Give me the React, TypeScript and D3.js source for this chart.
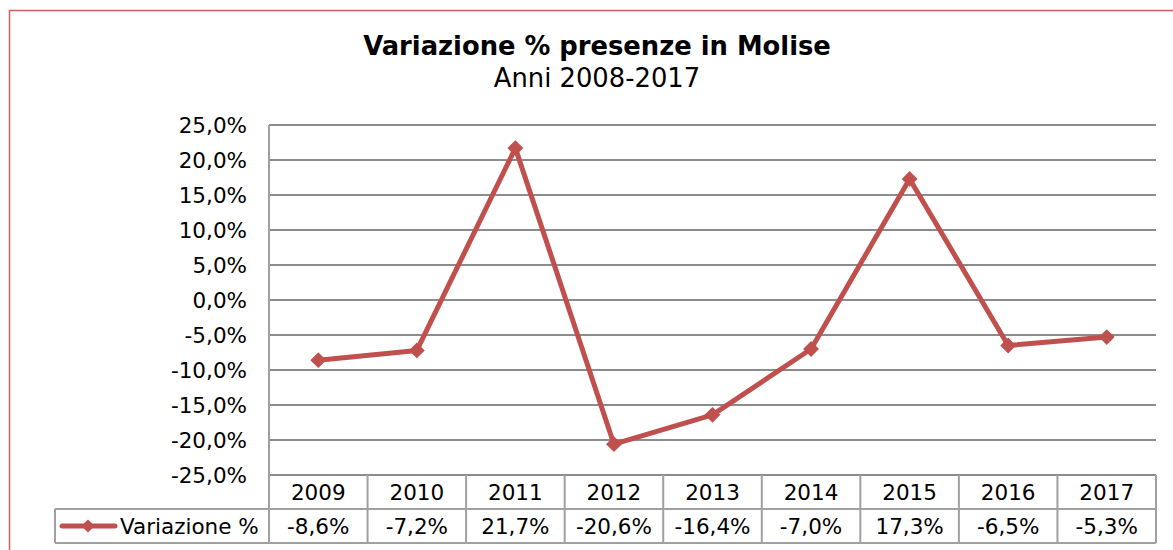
import { useEffect, useRef } from "react";
import * as d3 from "d3";

// Variazione % presenze in Molise, 2009-2017
const years = ["2009", "2010", "2011", "2012", "2013", "2014", "2015", "2016", "2017"];
const variazione = [-8.6, -7.2, 21.7, -20.6, -16.4, -7.0, 17.3, -6.5, -5.3];
const yTicks = [25, 20, 15, 10, 5, 0, -5, -10, -15, -20, -25];
const seriesName = "Variazione %";
const title = "Variazione % presenze in Molise";
const subtitle = "Anni 2008-2017";

const W = 1173;
const H = 550;
const RED = "#C0504D";
const GRID = "#8c8c8c";
const FONT = "'DejaVu Sans', Verdana, sans-serif";

const fmt = (v: number) => v.toFixed(1).replace(".", ",") + "%";

export default function App() {
  const svgRef = useRef<SVGSVGElement>(null);

  useEffect(() => {
    if (!svgRef.current) return;
    const svg = d3.select(svgRef.current);
    svg.selectAll("*").remove();

    const left = 269;
    const right = 1156;
    const top = 125;
    const bottom = 475;
    const rowH = 34;
    const legendLeft = 55;

    const x = d3.scaleBand<string>().domain(years).range([left, right]).padding(0);
    const y = d3.scaleLinear().domain([-25, 25]).range([bottom, top]);

    // outer chart border (cropped at right / bottom)
    svg.append("rect")
      .attr("x", 9.5)
      .attr("y", 10.5)
      .attr("width", W + 20)
      .attr("height", H + 20)
      .attr("fill", "#fff")
      .attr("stroke", "#d0605d")
      .attr("stroke-width", 1.5);

    // titles
    svg.append("text")
      .attr("x", 597)
      .attr("y", 55)
      .attr("text-anchor", "middle")
      .style("font-family", FONT)
      .style("font-size", "25.8px")
      .style("font-weight", "bold")
      .text(title);
    svg.append("text")
      .attr("x", 597)
      .attr("y", 87)
      .attr("text-anchor", "middle")
      .style("font-family", FONT)
      .style("font-size", "25.8px")
      .text(subtitle);

    // gridlines
    svg.append("g")
      .selectAll("line")
      .data(yTicks)
      .join("line")
      .attr("x1", left)
      .attr("x2", right)
      .attr("y1", (d) => y(d))
      .attr("y2", (d) => y(d))
      .attr("stroke", GRID)
      .attr("stroke-width", 2);

    // y tick labels
    svg.append("g")
      .selectAll("text")
      .data(yTicks)
      .join("text")
      .attr("x", 247)
      .attr("y", (d) => y(d))
      .attr("dy", "0.35em")
      .attr("text-anchor", "end")
      .style("font-family", FONT)
      .style("font-size", "21.5px")
      .text((d) => fmt(d));

    // data table
    const table = svg.append("g").attr("stroke", "#a0a0a0").attr("stroke-width", 2);
    table.append("line").attr("x1", left).attr("x2", left).attr("y1", top).attr("y2", bottom + 2 * rowH);
    table.append("line").attr("x1", legendLeft).attr("x2", right).attr("y1", bottom + rowH).attr("y2", bottom + rowH);
    table.append("line").attr("x1", legendLeft).attr("x2", right).attr("y1", bottom + 2 * rowH).attr("y2", bottom + 2 * rowH);
    table.append("line").attr("x1", legendLeft).attr("x2", legendLeft).attr("y1", bottom + rowH).attr("y2", bottom + 2 * rowH);
    table.selectAll("line.col")
      .data(years)
      .join("line")
      .attr("class", "col")
      .attr("x1", (d) => (x(d) as number) + x.bandwidth())
      .attr("x2", (d) => (x(d) as number) + x.bandwidth())
      .attr("y1", bottom)
      .attr("y2", bottom + 2 * rowH);

    const cx = (d: string) => (x(d) as number) + x.bandwidth() / 2;

    svg.append("g")
      .selectAll("text")
      .data(years)
      .join("text")
      .attr("x", cx)
      .attr("y", bottom + rowH / 2)
      .attr("dy", "0.35em")
      .attr("text-anchor", "middle")
      .style("font-family", FONT)
      .style("font-size", "21.5px")
      .text((d) => d);

    svg.append("g")
      .selectAll("text")
      .data(variazione)
      .join("text")
      .attr("x", (_, i) => cx(years[i]))
      .attr("y", bottom + rowH * 1.5)
      .attr("dy", "0.35em")
      .attr("text-anchor", "middle")
      .style("font-family", FONT)
      .style("font-size", "21.5px")
      .text((d) => fmt(d));

    // legend key in table
    const ly = bottom + rowH * 1.5;
    svg.append("line")
      .attr("x1", 62)
      .attr("x2", 115)
      .attr("y1", ly)
      .attr("y2", ly)
      .attr("stroke", RED)
      .attr("stroke-width", 5)
      .attr("stroke-linecap", "round");
    svg.append("path")
      .attr("d", d3.symbol(d3.symbolDiamond2, 110)())
      .attr("transform", `translate(88,${ly})`)
      .attr("fill", RED);
    svg.append("text")
      .attr("x", 120)
      .attr("y", ly)
      .attr("dy", "0.35em")
      .style("font-family", FONT)
      .style("font-size", "21.5px")
      .text(seriesName);

    // series line
    const line = d3.line<number>()
      .x((_, i) => cx(years[i]))
      .y((d) => y(d));
    svg.append("path")
      .datum(variazione)
      .attr("d", line)
      .attr("fill", "none")
      .attr("stroke", RED)
      .attr("stroke-width", 5)
      .attr("stroke-linejoin", "round");

    svg.append("g")
      .selectAll("path")
      .data(variazione)
      .join("path")
      .attr("d", d3.symbol(d3.symbolDiamond2, 160)())
      .attr("transform", (d, i) => `translate(${cx(years[i])},${y(d)})`)
      .attr("fill", RED);
  }, []);

  return (
    <svg
      ref={svgRef}
      width={W}
      height={H}
      style={{ position: "absolute", left: 0, top: 0, background: "#fff" }}
    />
  );
}
